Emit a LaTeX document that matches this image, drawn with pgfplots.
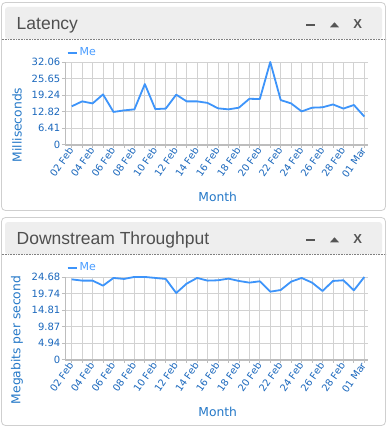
\documentclass[border=0pt]{standalone}
\usepackage{pgfplots}
\pgfplotsset{compat=1.18}
\usepackage{fontspec}
\setmainfont{DejaVu Sans}
\newfontfamily\titlefont{Liberation Sans}
\definecolor{panelborder}{HTML}{CFCFCF}
\definecolor{headerfill}{HTML}{EEEEEE}
\definecolor{titlegray}{HTML}{4F4F4F}
\definecolor{icongray}{HTML}{555555}
\definecolor{tickblue}{HTML}{1B68BD}
\definecolor{labelblue}{HTML}{2478C8}
\definecolor{legendblue}{HTML}{4A9DFF}
\definecolor{linecol}{HTML}{3D94FA}
\definecolor{gridgray}{HTML}{D2D2D2}
\definecolor{axisgray}{HTML}{BDBDBD}

\newcommand\panel[2]{%
  \begin{scope}[yshift=-#1pt]
    \draw[panelborder, line width=0.8pt, fill=white, rounded corners=4pt] (1.5pt,-2.5pt) rectangle (385.5pt,-210.5pt);
    \fill[headerfill, rounded corners=3pt] (5pt,-7pt) rectangle (382pt,-39pt);
    \draw[gray, densely dotted, line width=0.6pt] (1.5pt,-39.5pt) -- (385.5pt,-39.5pt);
    \node[anchor=base west, inner sep=0pt, text=titlegray, font=\titlefont\fontsize{17.5}{20}\selectfont] at (16.5pt,-29.2pt) {#2};
    \fill[icongray] (306pt,-23.8pt) rectangle (315pt,-26.4pt);
    \fill[icongray] (330pt,-27.3pt) -- (339pt,-27.3pt) -- (334.5pt,-22.3pt) -- cycle;
    \node[anchor=center, inner sep=0pt, text=icongray, font=\titlefont\bfseries\fontsize{13}{13}\selectfont] at (357.8pt,-24.5pt) {X};
  \end{scope}}

\pgfplotsset{dash/.style={
  scale only axis, width=303.3pt, height=82.7pt,
  anchor=south west, clip=false,
  xmin=-0.64, xmax=28.38, ymin=0,
  axis lines=left, axis line style={-, draw=axisgray, line width=0.8pt},
  x axis line style={line width=1.6pt},
  xtick={0,2,...,28},
  minor xtick={1,3,...,27},
  xticklabels={02 Feb,04 Feb,06 Feb,08 Feb,10 Feb,12 Feb,14 Feb,16 Feb,18 Feb,20 Feb,22 Feb,24 Feb,26 Feb,28 Feb,01 Mar},
  grid=both,
  major grid style={draw=gridgray, line width=0.9pt},
  minor grid style={draw=gridgray, line width=0.9pt},
  tick align=outside, major tick length=3pt, minor tick length=3pt,
  tick style={draw=axisgray, line width=0.8pt},
  xticklabel style={rotate=55, anchor=east, font=\fontsize{9.8}{11}\selectfont, text=tickblue, inner sep=1pt},
  yticklabel style={anchor=east, font=\fontsize{10}{11}\selectfont, text=tickblue, inner sep=1.5pt},
  legend style={at={(0,1)}, anchor=south west, xshift=1.5pt, yshift=2.5pt, draw=none, fill=none, inner sep=0pt,
    font=\fontsize{11}{12}\selectfont, text=legendblue},
  legend image code/.code={\draw[line width=2pt, linecol] (0pt,0pt) -- (9pt,0pt);},
}}

\begin{document}
\begin{tikzpicture}
\useasboundingbox (0,0) rectangle (388pt,-428pt);
\fill[white] (0,0) rectangle (388pt,-428pt);
\panel{0}{Latency}
\panel{215}{Downstream Throughput}

\begin{axis}[dash, at={(65pt,-144.7pt)}, ymax=32.06,
  ytick={0,6.412,12.824,19.236,25.648,32.06},
  yticklabels={0,6.41,12.82,19.24,25.65,32.06}]
\addplot[linecol, line width=1.8pt, mark=none, line join=round] coordinates {
(0,14.87) (1,16.8) (2,16.0) (3,19.5) (4,12.7) (5,13.3) (6,13.7) (7,23.5) (8,13.8) (9,14.0)
(10,19.4) (11,16.8) (12,16.8) (13,16.2) (14,14.1) (15,13.7) (16,14.35) (17,17.8) (18,17.7) (19,32.06)
(20,17.3) (21,16.0) (22,12.9) (23,14.35) (24,14.5) (25,15.6) (26,14.0) (27,15.4) (28,10.9)};
\addlegendentry{Me}
\end{axis}
\node[rotate=90, text=labelblue, font=\fontsize{12.3}{14}\selectfont] at (17pt,-125pt) {Milliseconds};
\node[text=labelblue, font=\fontsize{12.3}{14}\selectfont] at (217.7pt,-196.7pt) {Month};

\begin{axis}[dash, at={(65pt,-359.7pt)}, ymax=24.68,
  ytick={0,4.936,9.872,14.808,19.744,24.68},
  yticklabels={0,4.94,9.87,14.81,19.74,24.68}]
\addplot[linecol, line width=1.8pt, mark=none, line join=round] coordinates {
(0,23.98) (1,23.6) (2,23.6) (3,22.1) (4,24.4) (5,24.1) (6,24.7) (7,24.7) (8,24.4) (9,24.1)
(10,19.9) (11,22.7) (12,24.4) (13,23.6) (14,23.7) (15,24.2) (16,23.5) (17,23.0) (18,23.4) (19,20.3)
(20,20.8) (21,23.3) (22,24.4) (23,23.0) (24,20.5) (25,23.5) (26,23.7) (27,20.7) (28,24.68)};
\addlegendentry{Me}
\end{axis}
\node[rotate=90, text=labelblue, font=\fontsize{12.3}{14}\selectfont] at (17pt,-340pt) {Megabits per second};
\node[text=labelblue, font=\fontsize{12.3}{14}\selectfont] at (217.7pt,-411.7pt) {Month};
\end{tikzpicture}
\end{document}
